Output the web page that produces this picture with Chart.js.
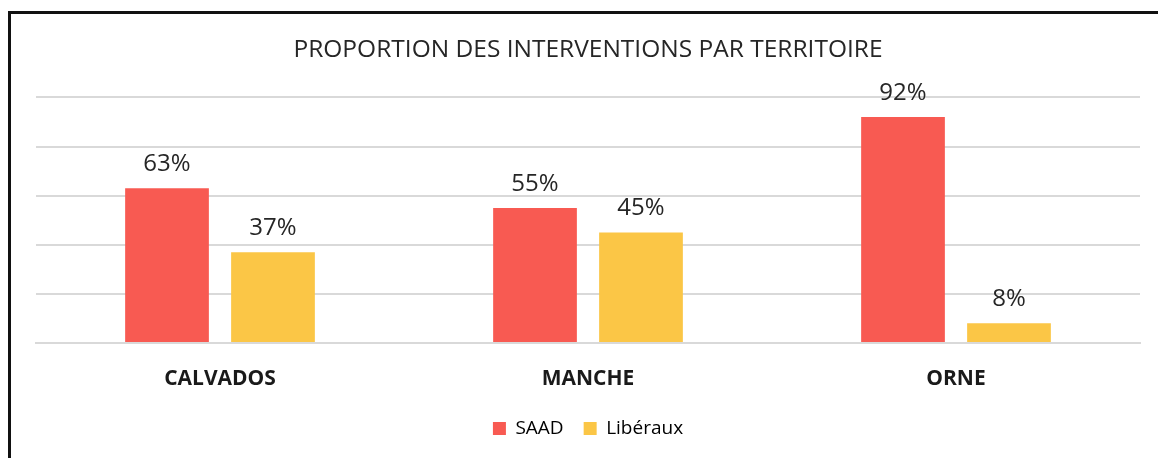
<!DOCTYPE html>
<html>
<head>
<meta charset="utf-8">
<script src="https://cdn.jsdelivr.net/npm/chart.js@4"></script>
<style>
  html, body { margin: 0; padding: 0; background: #fff; overflow: hidden; }
  #frame {
    position: absolute; left: 8px; top: 11px; width: 1200px; height: 500px;
    border-top: 3px solid #111; border-left: 3px solid #111;
  }
  #wrap { position: absolute; left: 0; top: 0; width: 1158px; height: 458px; }
</style>
</head>
<body>
<div id="frame"></div>
<div id="wrap"><canvas id="chart"></canvas></div>
<script>
  // ---- Data ----
  const territories = ['CALVADOS', 'MANCHE', 'ORNE'];
  const saad = [63, 55, 92];
  const liberaux = [37, 45, 8];
  const seriesNames = ['SAAD', 'Libéraux'];
  const chartTitle = 'PROPORTION DES INTERVENTIONS PAR TERRITOIRE';

  const font = "'Open Sans', 'Liberation Sans', sans-serif";
  Chart.defaults.font.family = font;
  Chart.defaults.color = '#262626';

  // value labels above the bars
  const valueLabels = {
    id: 'valueLabels',
    afterDatasetsDraw(chart) {
      const ctx = chart.ctx;
      ctx.save();
      ctx.font = "24px " + font;
      ctx.fillStyle = '#262626';
      ctx.textAlign = 'center';
      ctx.textBaseline = 'bottom';
      chart.data.datasets.forEach((ds, i) => {
        chart.getDatasetMeta(i).data.forEach((bar, j) => {
          ctx.fillText(ds.data[j] + '%', bar.x, bar.y - 12);
        });
      });
      ctx.restore();
    }
  };

  new Chart(document.getElementById('chart'), {
    type: 'bar',
    data: {
      labels: territories,
      datasets: [
        { label: seriesNames[0], data: saad, backgroundColor: '#F85A52' },
        { label: seriesNames[1], data: liberaux, backgroundColor: '#FBC646' }
      ]
    },
    options: {
      responsive: true,
      maintainAspectRatio: false,
      animation: false,
      categoryPercentage: 0.576,
      barPercentage: 0.79,
      layout: { padding: { left: 36, right: 18, top: 0, bottom: 10 } },
      plugins: {
        title: {
          display: true,
          text: chartTitle,
          font: { size: 24.5, weight: 'normal' },
          color: '#262626',
          padding: { top: 35, bottom: 33 }
        },
        legend: {
          position: 'bottom',
          labels: {
            boxWidth: 13, boxHeight: 13,
            font: { size: 19 },
            padding: 20,
            generateLabels(chart) {
              return chart.data.datasets.map((ds, i) => ({
                text: ds.label, fillStyle: ds.backgroundColor, strokeStyle: ds.backgroundColor,
                lineWidth: 0, datasetIndex: i
              }));
            }
          }
        },
        tooltip: { enabled: false }
      },
      scales: {
        x: {
          grid: { display: false, drawTicks: false },
          border: { display: true, color: '#D9D9D9', width: 2 },
          ticks: { font: { size: 21, weight: 'bold' }, color: '#1a1a1a', padding: 23 },
          afterFit(scale) { scale.height = 56; }
        },
        y: {
          min: 0, max: 100,
          ticks: { display: false, stepSize: 20 },
          border: { display: false },
          grid: { color: '#D9D9D9', lineWidth: 2, drawTicks: false }
        }
      }
    },
    plugins: [valueLabels]
  });
</script>
</body>
</html>
